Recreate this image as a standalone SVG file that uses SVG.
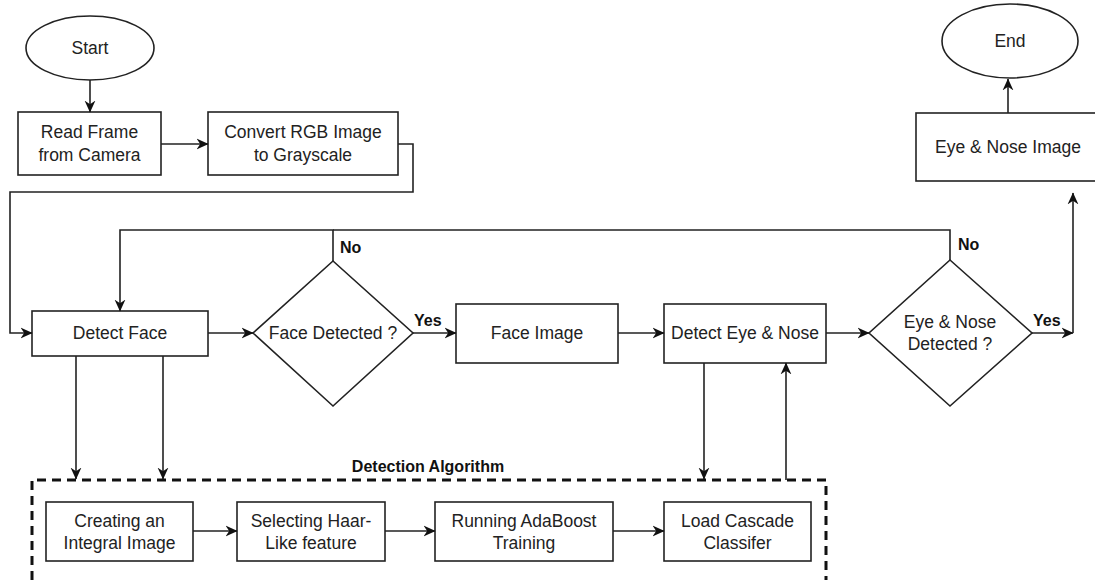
<svg xmlns="http://www.w3.org/2000/svg" width="1095" height="581" viewBox="0 0 1095 581">
<style>
.box{fill:#fff;stroke:#222;stroke-width:1.6}
.t{font-family:"Liberation Sans",Arial,sans-serif;font-size:17.5px;fill:#222;text-anchor:middle}
.b{font-family:"Liberation Sans",Arial,sans-serif;font-size:16px;font-weight:bold;fill:#111}
.c{fill:none;stroke:#222;stroke-width:1.6}
.ca{fill:none;stroke:#222;stroke-width:1.6;marker-end:url(#ah)}
</style>
<defs>
<marker id="ah" viewBox="0 0 10 10" refX="9.5" refY="5" markerWidth="12" markerHeight="12" markerUnits="userSpaceOnUse" orient="auto">
<path d="M0,0.5 L10,5 L0,9.5 L3,5 z" fill="#111"/>
</marker>
</defs>
<rect width="1095" height="581" fill="#fff"/>
<g id="start"><ellipse class="box" cx="90" cy="48" rx="64" ry="32"/><text class="t" x="90" y="54">Start</text></g>
<g id="read"><rect class="box" x="18" y="112" width="143" height="63"/><text class="t" x="89.5" y="138">Read Frame</text><text class="t" x="89.5" y="161">from Camera</text></g>
<g id="convert"><rect class="box" x="208" y="112" width="190" height="63"/><text class="t" x="303" y="138">Convert RGB Image</text><text class="t" x="303" y="161">to Grayscale</text></g>
<g id="detectface"><rect class="box" x="32" y="311" width="176" height="45"/><text class="t" x="120" y="339">Detect Face</text></g>
<g id="facedetected"><polygon class="box" points="333,261 413,333 333,406 253,333"/><text class="t" x="333" y="339">Face Detected ?</text></g>
<g id="faceimage"><rect class="box" x="456" y="304" width="162" height="59"/><text class="t" x="537" y="339">Face Image</text></g>
<g id="detecteye"><rect class="box" x="664" y="304" width="162" height="59"/><text class="t" x="745" y="339">Detect Eye &amp; Nose</text></g>
<g id="eyedetected"><polygon class="box" points="950,260 1032,333 950,406 869,333"/><text class="t" x="950" y="328">Eye &amp; Nose</text><text class="t" x="950" y="350">Detected ?</text></g>
<g id="eyeimage"><rect class="box" x="916" y="113" width="190" height="68"/><text class="t" x="1008" y="153">Eye &amp; Nose Image</text></g>
<g id="end"><ellipse class="box" cx="1010" cy="41" rx="68" ry="37"/><text class="t" x="1010" y="47">End</text></g>
<g id="algorithm">
<path d="M32,580 L32,480 L826,480 L826,580" fill="none" stroke="#111" stroke-width="3" stroke-dasharray="9,6"/>
<text class="b" x="428" y="472" text-anchor="middle" font-size="17">Detection Algorithm</text>
</g>
<g id="integral"><rect class="box" x="46" y="502" width="147" height="59"/><text class="t" x="119.5" y="527">Creating an</text><text class="t" x="119.5" y="549">Integral Image</text></g>
<g id="haar"><rect class="box" x="237" y="502" width="148" height="59"/><text class="t" x="311" y="527">Selecting Haar-</text><text class="t" x="311" y="549">Like feature</text></g>
<g id="adaboost"><rect class="box" x="435" y="502" width="178" height="59"/><text class="t" x="524" y="527">Running AdaBoost</text><text class="t" x="524" y="549">Training</text></g>
<g id="cascade"><rect class="box" x="664" y="502" width="147" height="59"/><text class="t" x="737.5" y="527">Load Cascade</text><text class="t" x="737.5" y="549">Classifer</text></g>
<g id="connectors">
<path class="ca" d="M90,80 L90,112"/>
<path class="ca" d="M161,144 L208,144"/>
<path class="ca" d="M398,144 L413,144 L413,192 L10,192 L10,333 L32,333"/>
<path class="ca" d="M208,333 L253,333"/>
<path class="ca" d="M333,261 L333,230 L120,230 L120,311"/>
<path class="c" d="M333,230 L950,230 L950,260"/>
<path class="ca" d="M413,333 L456,333"/>
<path class="ca" d="M618,333 L664,333"/>
<path class="ca" d="M826,333 L869,333"/>
<path class="ca" d="M1032,333 L1073,333"/>
<path class="ca" d="M1073,333 L1073,193"/>
<path class="ca" d="M1008,113 L1008,79"/>
<path class="ca" d="M76,356 L76,479"/>
<path class="ca" d="M163,356 L163,479"/>
<path class="ca" d="M704,363 L704,479"/>
<path class="ca" d="M786,480 L786,363"/>
<path class="ca" d="M193,531 L237,531"/>
<path class="ca" d="M385,531 L435,531"/>
<path class="ca" d="M613,531 L664,531"/>
<text class="b" x="340" y="253">No</text>
<text class="b" x="958" y="250">No</text>
<text class="b" x="414" y="326">Yes</text>
<text class="b" x="1033" y="326">Yes</text>
</g>
</svg>
